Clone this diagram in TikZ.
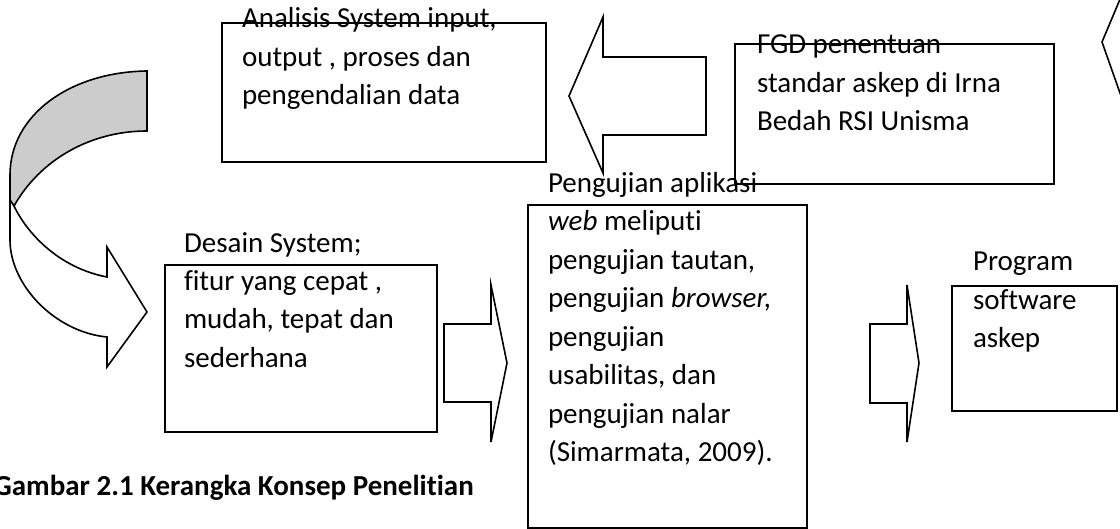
\documentclass[tikz,border=0pt]{standalone}
\usepackage{fontspec}
\setmainfont{Carlito}[RawFeature={-liga;-clig;-dlig}]
\tikzset{
  box/.style={draw=black, line width=1.6pt, anchor=north west, inner sep=0pt, outer sep=0pt},
  txt/.style={anchor=north west, inner sep=0pt, outer sep=0pt, align=left, font=\fontsize{29}{38.5}\selectfont},
  blockarrow/.style={draw=black, line width=1.6pt, line join=miter, fill=white},
  bendfront/.style={draw=black, line width=1.6pt, line join=miter, fill=white},
  bendback/.style={draw=black, line width=1.6pt, line join=miter, fill=black!20},
}
\begin{document}
\begin{tikzpicture}[x=1pt, y=-1pt]
\useasboundingbox (0,0) rectangle (1120,529);
\clip (0,0) rectangle (1120,529);

% boxes
\node[box, minimum width=324pt, minimum height=139pt] (ana) at (222,23) {};
\node[box, minimum width=319pt, minimum height=140pt] (fgd) at (735,44) {};
\node[box, minimum width=272pt, minimum height=167pt] (des) at (165,265) {};
\node[box, minimum width=279pt, minimum height=323pt] (uji) at (528,205) {};
\node[box, minimum width=165pt, minimum height=125pt] (prog) at (952,286) {};

% curved arrow (left)
\path[bendback] (147,71) .. controls (70,72) and (10,115) .. (10,175)
  -- (10,200) -- (14,206) .. controls (40,160) and (90,131) .. (147,131) -- cycle;
\path[bendfront] (10,200) -- (10,240) .. controls (10,285) and (55,332) .. (107,337)
  -- (107,367) -- (147,312) -- (107,247) -- (107,277)
  .. controls (60,268) and (28,235) .. (14,206) -- cycle;

% left block arrow (FGD -> Analisis)
\path[blockarrow] (569,96) -- (603,17) -- (603,57) -- (706,57) -- (706,135)
  -- (603,135) -- (603,173) -- cycle;

% right block arrow (Desain -> Pengujian)
\path[blockarrow] (444,324) -- (491,324) -- (491,285) -- (507,363) -- (491,442)
  -- (491,402) -- (444,402) -- cycle;

% right block arrow (Pengujian -> Program)
\path[blockarrow] (870,324) -- (907,324) -- (907,285) -- (919,363) -- (907,442)
  -- (907,403) -- (870,403) -- cycle;

% partial arrow at top right
\draw[line width=1.6pt, line join=miter] (1126,-15) -- (1102,42) -- (1126,110);

% texts
\node[txt] (tana) at (242,1.05) {\strut Analisis System input,\\output , proses dan\\pengendalian data};
\node[txt] (tfgd) at (757,27.05) {\strut FGD penentuan\\standar askep di Irna\\Bedah RSI Unisma};
\node[txt] (tdes) at (184,225.05) {\strut Desain System;\\fitur yang cepat ,\\mudah, tepat dan\\sederhana};
\node[txt] (tuji) at (548,165.05) {\strut Pengujian aplikasi\\\textit{web} meliputi\\pengujian tautan,\\pengujian \textit{browser,}\\pengujian\\usabilitas, dan\\pengujian nalar\\(Simarmata, 2009).};
\node[txt] (tprog) at (973,244.05) {\strut Program\\software\\askep};

% caption
\node[anchor=base east, inner sep=0pt, font=\fontsize{29}{38.5}\selectfont\bfseries] (cap) at (474,495) {Gambar 2.1 Kerangka Konsep Penelitian};
\end{tikzpicture}
\end{document}
